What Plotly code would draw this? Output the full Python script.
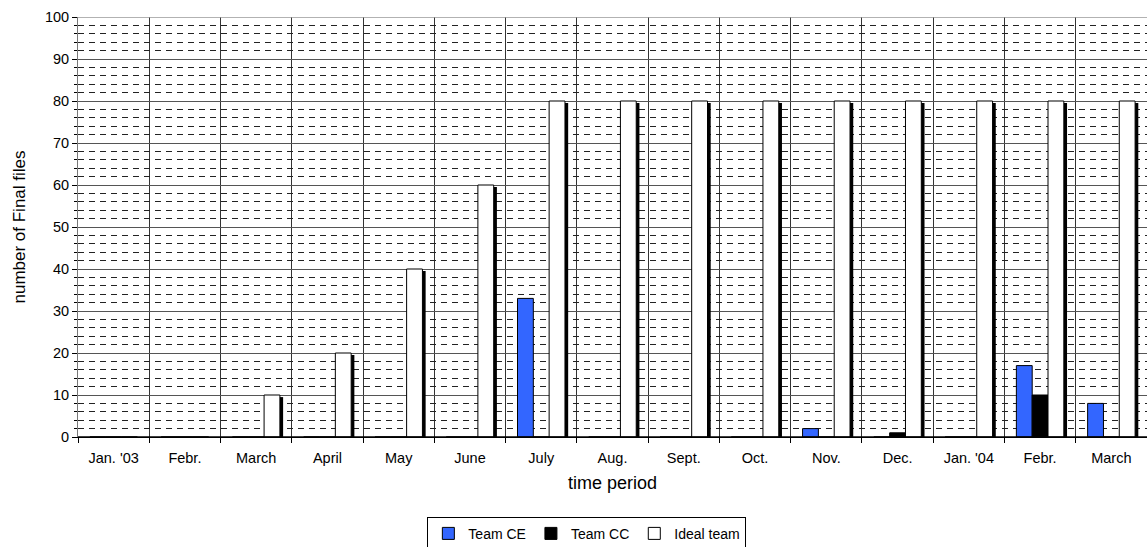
import plotly.graph_objects as go

categories = ["Jan. '03", "Febr.", "March", "April", "May", "June", "July", "Aug.",
              "Sept.", "Oct.", "Nov.", "Dec.", "Jan. '04", "Febr.", "March"]
team_ce = [0, 0, 0, 0, 0, 0, 33, 0, 0, 0, 2, 0, 0, 17, 8]
team_cc = [0, 0, 0, 0, 0, 0, 0, 0, 0, 0, 0, 1, 0, 10, 0]
ideal_team = [0, 0, 10, 20, 40, 60, 80, 80, 80, 80, 80, 80, 80, 80, 80]

x = list(range(len(categories)))
bw = 0.222
shadow_shift = 0.045
shadow_drop = 0.5

fig = go.Figure()
fig.add_trace(go.Bar(x=x, y=team_ce, name="Team CE", offset=-1.5 * bw, width=bw,
                     marker=dict(color="#3366FF", line=dict(color="#000000", width=1))))
fig.add_trace(go.Bar(x=x, y=team_cc, name="Team CC", offset=-0.5 * bw, width=bw,
                     marker=dict(color="#000000", line=dict(color="#000000", width=1))))
fig.add_trace(go.Bar(x=x, y=[max(v - shadow_drop, 0) for v in ideal_team], name="shadow",
                     offset=0.5 * bw + shadow_shift, width=bw, showlegend=False,
                     hoverinfo="skip",
                     marker=dict(color="#000000", line=dict(width=0))))
fig.add_trace(go.Bar(x=x, y=ideal_team, name="Ideal team", offset=0.5 * bw, width=bw,
                     marker=dict(color="#FFFFFF", line=dict(color="#000000", width=1))))

fig.update_layout(
    width=1147, height=547,
    margin=dict(l=78, r=0, t=17, b=110, autoexpand=False),
    barmode="overlay",
    plot_bgcolor="white", paper_bgcolor="white",
    font=dict(family="Liberation Sans, Arial, sans-serif", size=14, color="#000"),
    showlegend=True,
    legend=dict(orientation="h", x=0.476, xanchor="center", y=-0.19, yanchor="top",
                bordercolor="#000", borderwidth=1, font=dict(size=14),
                itemwidth=30, tracegroupgap=0, traceorder="normal"),
    xaxis=dict(
        range=[-0.5, len(categories) - 0.5],
        tickmode="array", tickvals=x, ticktext=categories,
        ticks="", showgrid=False, showline=True, linecolor="#000", linewidth=1,
        zeroline=False, tickfont=dict(size=14.5), ticklabelstandoff=8,
        minor=dict(tickmode="linear", tick0=-0.5, dtick=1, showgrid=True,
                   gridcolor="#333", gridwidth=1, ticks="outside", ticklen=5,
                   tickcolor="#000"),
        title=dict(text="time period", font=dict(size=18), standoff=10),
    ),
    yaxis=dict(
        range=[0, 100], tickmode="linear", tick0=0, dtick=10,
        showgrid=True, gridcolor="#555", gridwidth=1,
        ticks="outside", ticklen=5, tickcolor="#000",
        showline=True, linecolor="#777", linewidth=1, mirror=False,
        zeroline=False, tickfont=dict(size=14.5),
        minor=dict(tickmode="linear", tick0=0, dtick=2, showgrid=True,
                   gridcolor="#222", gridwidth=1, griddash="6px,5px",
                   ticks="outside", ticklen=3, tickcolor="#000"),
        title=dict(text="number of Final files", font=dict(size=17), standoff=14),
    ),
)

fig.add_shape(type="line", xref="paper", yref="y", x0=0, x1=1, y0=100, y1=100,
              line=dict(color="#999", width=1.5))
fig.add_shape(type="line", xref="paper", yref="y", x0=0, x1=1, y0=0, y1=0,
              line=dict(color="#000", width=1.5))

fig.write_html("out.html")
